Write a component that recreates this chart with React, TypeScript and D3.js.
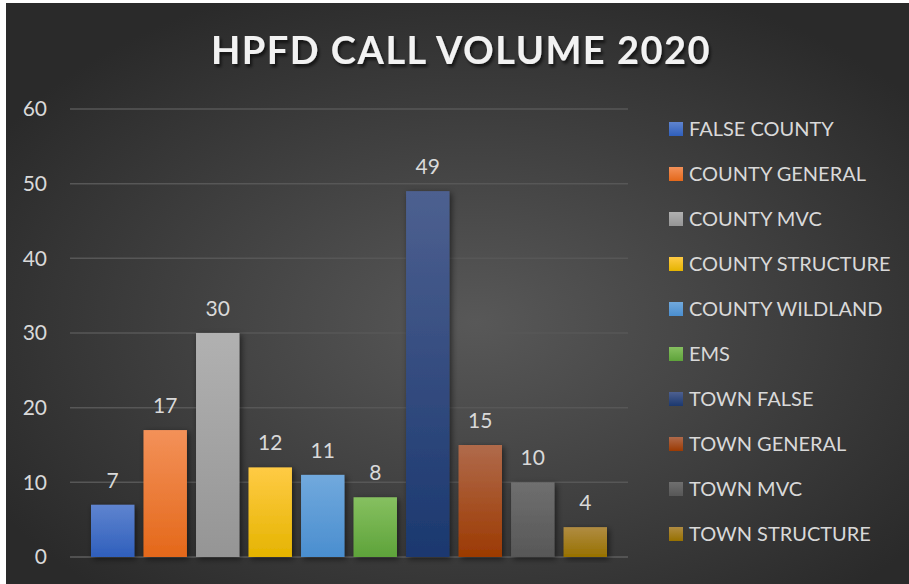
import React from "react";
import * as d3 from "d3";

const categories = [
  "FALSE COUNTY",
  "COUNTY GENERAL",
  "COUNTY MVC",
  "COUNTY STRUCTURE",
  "COUNTY WILDLAND",
  "EMS",
  "TOWN FALSE",
  "TOWN GENERAL",
  "TOWN MVC",
  "TOWN STRUCTURE",
];
const values = [7, 17, 30, 12, 11, 8, 49, 15, 10, 4];
// top / bottom colours of each bar's gradient
const topColors = ["#5f84cf", "#f39159", "#b1b1b1", "#ffcb45", "#71a9dd", "#86c060", "#4d6090", "#b06a4b", "#6f6f6f", "#b08c42"];
const bottomColors = ["#2f5fbc", "#e4681a", "#959595", "#e5b400", "#4a8ecf", "#5ea33a", "#1b386f", "#9c3a02", "#575757", "#977100"];
const yTicks = [0, 10, 20, 30, 40, 50, 60];

const W = 909;
const H = 584;
const font = "Lato, 'Open Sans', sans-serif";

export default function App() {
  const margin = { left: 70, right: 628, top: 109, bottom: 557 };

  const x = d3
    .scaleBand<string>()
    .domain(categories)
    .range([margin.left, margin.right])
    .paddingInner(0.173)
    .paddingOuter(0.4);

  const y = d3.scaleLinear().domain([0, 60]).range([margin.bottom, margin.top]);

  const legendY = d3.scalePoint<string>().domain(categories).range([129, 534]);

  return (
    <svg width={W} height={H} style={{ position: "absolute", left: 0, top: 0, background: "#fff" }}>
      <defs>
        <radialGradient id="bg" cx="52%" cy="55%" r="62%">
          <stop offset="0%" stopColor="#585858" />
          <stop offset="100%" stopColor="#2a2a2a" />
        </radialGradient>
        {categories.map((c, i) => (
          <linearGradient key={c} id={`bar${i}`} x1="0" x2="0" y1="0" y2="1">
            <stop offset="0%" stopColor={topColors[i]} />
            <stop offset="100%" stopColor={bottomColors[i]} />
          </linearGradient>
        ))}
        <filter id="shadow" x="-30%" y="-10%" width="160%" height="130%">
          <feDropShadow dx="2" dy="2" stdDeviation="3" floodColor="#000" floodOpacity="0.55" />
        </filter>
        <filter id="tshadow" x="-10%" y="-20%" width="120%" height="160%">
          <feDropShadow dx="2" dy="3" stdDeviation="1.5" floodColor="#000" floodOpacity="0.6" />
        </filter>
      </defs>

      {/* chart area (the reference has a thin white border top/left) */}
      <rect x={6} y={3} width={W - 6} height={H - 3} fill="url(#bg)" />

      {/* Title */}
      <text
        x={461}
        y={64}
        textAnchor="middle"
        fontFamily={font}
        fontWeight={700}
        fontSize={38}
        fill="#f2f2f2"
        letterSpacing={1.5}
        filter="url(#tshadow)"
      >
        HPFD CALL VOLUME 2020
      </text>

      {/* Gridlines */}
      {yTicks.map((t) => (
        <line
          key={t}
          x1={margin.left}
          x2={margin.right}
          y1={y(t)}
          y2={y(t)}
          stroke={t === 0 ? "#5e5e5e" : "#575757"}
          strokeWidth={1.5}
        />
      ))}

      {/* Y axis labels */}
      {yTicks.map((t) => (
        <text
          key={t}
          x={47}
          y={y(t)}
          dy="0.35em"
          textAnchor="end"
          fontFamily={font}
          fontSize={21}
          fill="#d9d9d9"
        >
          {t}
        </text>
      ))}

      {/* Bars */}
      {categories.map((c, i) => (
        <rect
          key={c}
          x={x(c)}
          y={y(values[i])}
          width={x.bandwidth()}
          height={y(0) - y(values[i])}
          fill={`url(#bar${i})`}
          filter="url(#shadow)"
        />
      ))}

      {/* Data labels */}
      {categories.map((c, i) => (
        <text
          key={c}
          x={(x(c) ?? 0) + x.bandwidth() / 2}
          y={y(values[i]) - 17}
          textAnchor="middle"
          fontFamily={font}
          fontSize={21}
          fill="#d9d9d9"
        >
          {values[i]}
        </text>
      ))}

      {/* Legend */}
      {categories.map((c, i) => (
        <g key={c} transform={`translate(669, ${legendY(c)})`}>
          <rect x={0} y={-7} width={14} height={14} fill={`url(#bar${i})`} />
          <text x={20} y={0} dy="0.36em" fontFamily={font} fontSize={20} fill="#d9d9d9">
            {c}
          </text>
        </g>
      ))}
    </svg>
  );
}
